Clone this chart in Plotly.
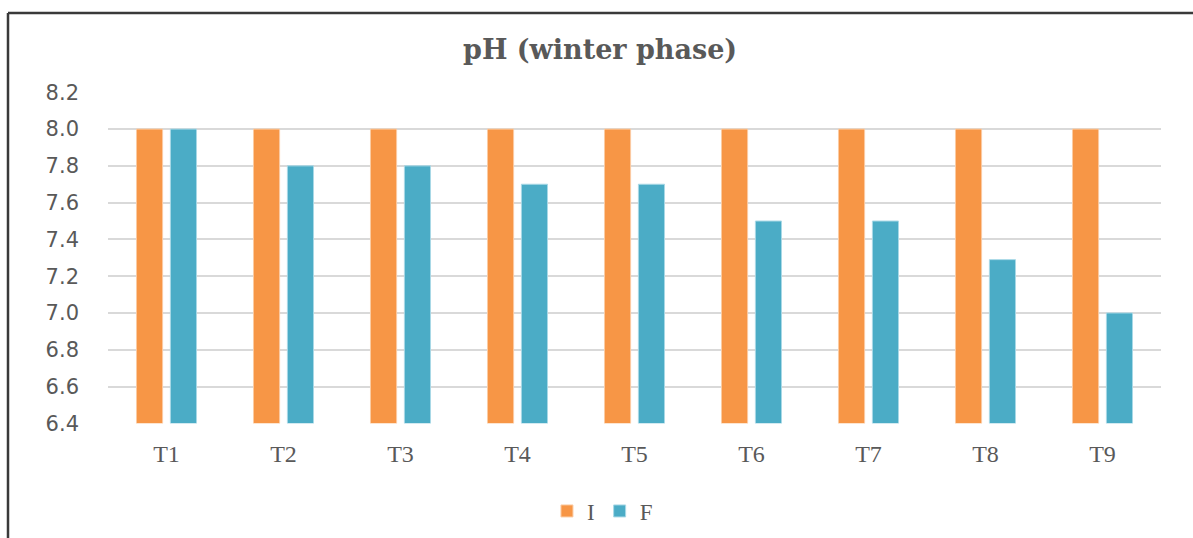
import plotly.graph_objects as go

categories = ["T1", "T2", "T3", "T4", "T5", "T6", "T7", "T8", "T9"]
initial_ph = [8.0, 8.0, 8.0, 8.0, 8.0, 8.0, 8.0, 8.0, 8.0]
final_ph = [8.0, 7.8, 7.8, 7.7, 7.7, 7.5, 7.5, 7.29, 7.0]
y_ticks = [6.4, 6.6, 6.8, 7.0, 7.2, 7.4, 7.6, 7.8, 8.0, 8.2]
y_tick_text = ["6.4", "6.6", "6.8", "7.0", "7.2", "7.4", "7.6", "7.8", "8.0", "8.2"]

W, H = 1193, 538
TXT = "#595959"

fig = go.Figure()
fig.add_trace(go.Bar(name="I", x=categories, y=initial_ph, base=0,
                     marker=dict(color="#F79646", line=dict(color="#FBCBA3", width=1))))
fig.add_trace(go.Bar(name="F", x=categories, y=final_ph, base=0,
                     marker=dict(color="#4BACC6", line=dict(color="#A8D8E6", width=1))))


def px(x):
    return x / W


def py(y):
    return 1 - y / H


fig.add_shape(type="line", xref="paper", yref="paper",
              x0=px(8), x1=px(8), y0=py(13), y1=-0.1,
              line=dict(color="#3a3a3a", width=2.5))
fig.add_shape(type="line", xref="paper", yref="paper",
              x0=px(8), x1=1.1, y0=py(13), y1=py(13),
              line=dict(color="#3a3a3a", width=2.5))

fig.update_layout(
    width=W, height=H,
    margin=dict(l=0, r=0, t=0, b=0, autoexpand=False),
    paper_bgcolor="white", plot_bgcolor="white",
    barmode="group", bargap=0.42, bargroupgap=0.23,
    title=dict(text="<b>pH (winter phase)</b>", x=0.503, xanchor="center",
               y=py(50), yanchor="middle", yref="container",
               font=dict(family="DejaVu Serif", size=27, color=TXT)),
    xaxis=dict(domain=[px(108), px(1161)], showgrid=False, showline=False,
               automargin=False, ticks="", ticklabelstandoff=14,
               tickfont=dict(family="Liberation Serif", size=24, color=TXT)),
    yaxis=dict(domain=[py(423.3), py(92.3)], range=[6.4, 8.2],
               tickvals=y_ticks, ticktext=y_tick_text, automargin=False,
               showgrid=True, gridcolor="#D9D9D9", gridwidth=1.5,
               zeroline=False, showline=False, ticks="", ticklabelstandoff=28,
               tickfont=dict(family="DejaVu Sans", size=21, color=TXT)),
    legend=dict(orientation="h", x=0.505, xanchor="center", y=py(511), yanchor="middle",
                font=dict(family="Liberation Serif", size=23, color=TXT),
                itemwidth=30, traceorder="normal"),
    showlegend=True,
)

fig.write_html(
    "out.html",
    config={"displayModeBar": False},
    post_script="document.body.style.margin='0';document.body.style.overflow='hidden';",
)
